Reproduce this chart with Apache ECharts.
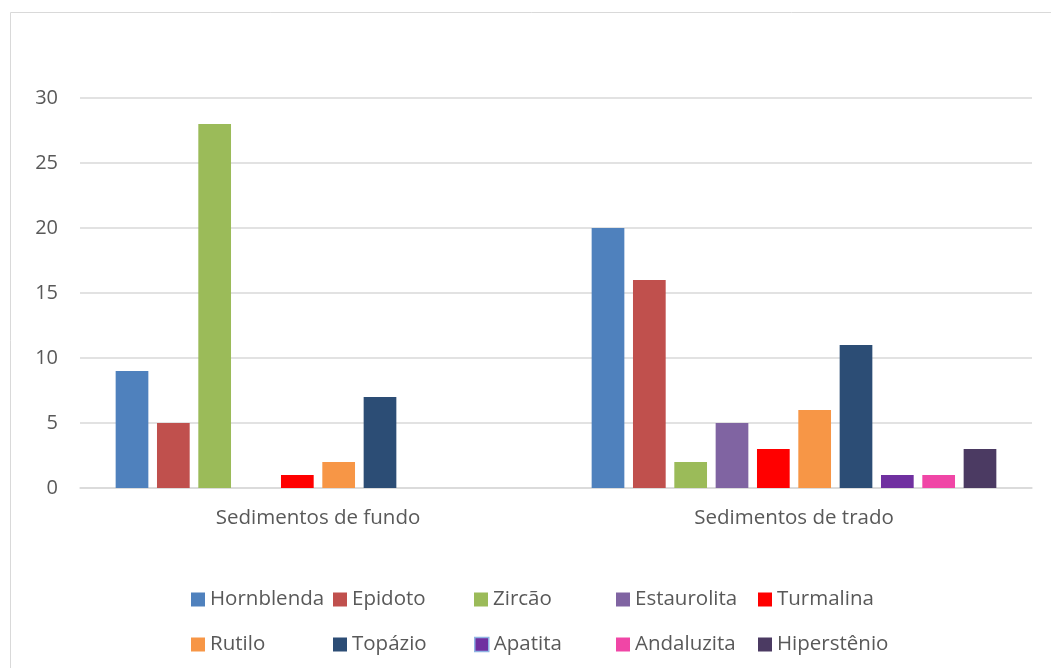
<!DOCTYPE html>
<html>
<head>
<meta charset="utf-8">
<script src="https://cdn.jsdelivr.net/npm/echarts@6/dist/echarts.min.js"></script>
<style>
  html, body { margin: 0; padding: 0; background: #fff; }
  #chart { width: 1051px; height: 668px; }
</style>
</head>
<body>
<div id="chart"></div>
<script>
// categorias
const categorias = ['Sedimentos de fundo', 'Sedimentos de trado'];

// minerais (uma série cada)
const minerais = ['Hornblenda', 'Epidoto', 'Zircão', 'Estaurolita', 'Turmalina',
  'Rutilo', 'Topázio', 'Apatita', 'Andaluzita', 'Hiperstênio'];
const cores = ['#4F81BD', '#C0504D', '#9BBB59', '#8064A2', '#FF0000',
  '#F79646', '#2C4D75', '#7030A0', '#F046A6', '#4B3A62'];

const hornblenda = [9, 20];
const epidoto = [5, 16];
const zircao = [28, 2];
const estaurolita = [0, 5];
const turmalina = [1, 3];
const rutilo = [2, 6];
const topazio = [7, 11];
const apatita = [0, 1];
const andaluzita = [0, 1];
const hiperstenio = [0, 3];

const valores = [hornblenda, epidoto, zircao, estaurolita, turmalina,
  rutilo, topazio, apatita, andaluzita, hiperstenio];

const fonte = '"Open Sans", "Noto Sans", sans-serif';

let series = [];
for (let i in minerais) {
  series.push({
    name: minerais[i],
    type: 'bar',
    barWidth: 32.7,
    barGap: '26.4%',
    itemStyle: { color: cores[i] },
    data: valores[i]
  });
}

// legenda em grelha de 5 colunas x 2 linhas
const colunas = [191, 333, 474, 616, 758];
const linhas = [589, 634];

let legendas = [];
for (let i in minerais) {
  let nome = minerais[i];
  let item = { name: nome };
  if (nome === 'Apatita') {
    item.itemStyle = { borderColor: '#8FB4E3', borderWidth: 1.5 };
  }
  legendas.push({
    left: colunas[i % 5],
    top: linhas[Math.floor(i / 5)],
    padding: 0,
    itemWidth: 14,
    itemHeight: 14,
    icon: 'rect',
    textStyle: { color: '#595959', fontSize: 20.5, fontFamily: fonte },
    data: [item]
  });
}

let chart = echarts.init(document.getElementById('chart'));
chart.setOption({
  animation: false,
  color: cores,
  graphic: [{
    type: 'rect',
    shape: { x: 10.5, y: 12.5, width: 1060, height: 700 },
    style: { fill: null, stroke: '#D9D9D9', lineWidth: 1 },
    silent: true
  }],
  legend: legendas,
  grid: { left: 80, right: 19, top: 98, bottom: 180 },
  xAxis: {
    type: 'category',
    data: categorias,
    axisLine: { lineStyle: { color: '#D9D9D9', width: 1.5 } },
    axisTick: { show: false },
    axisLabel: { color: '#595959', fontSize: 20.5, fontFamily: fonte, margin: 20 }
  },
  yAxis: {
    type: 'value',
    min: 0,
    max: 30,
    interval: 5,
    axisLine: { show: false },
    axisTick: { show: false },
    axisLabel: { color: '#595959', fontSize: 20, fontFamily: fonte, margin: 22 },
    splitLine: { lineStyle: { color: '#D9D9D9', width: 1.5 } }
  },
  series: series
});
</script>
</body>
</html>
